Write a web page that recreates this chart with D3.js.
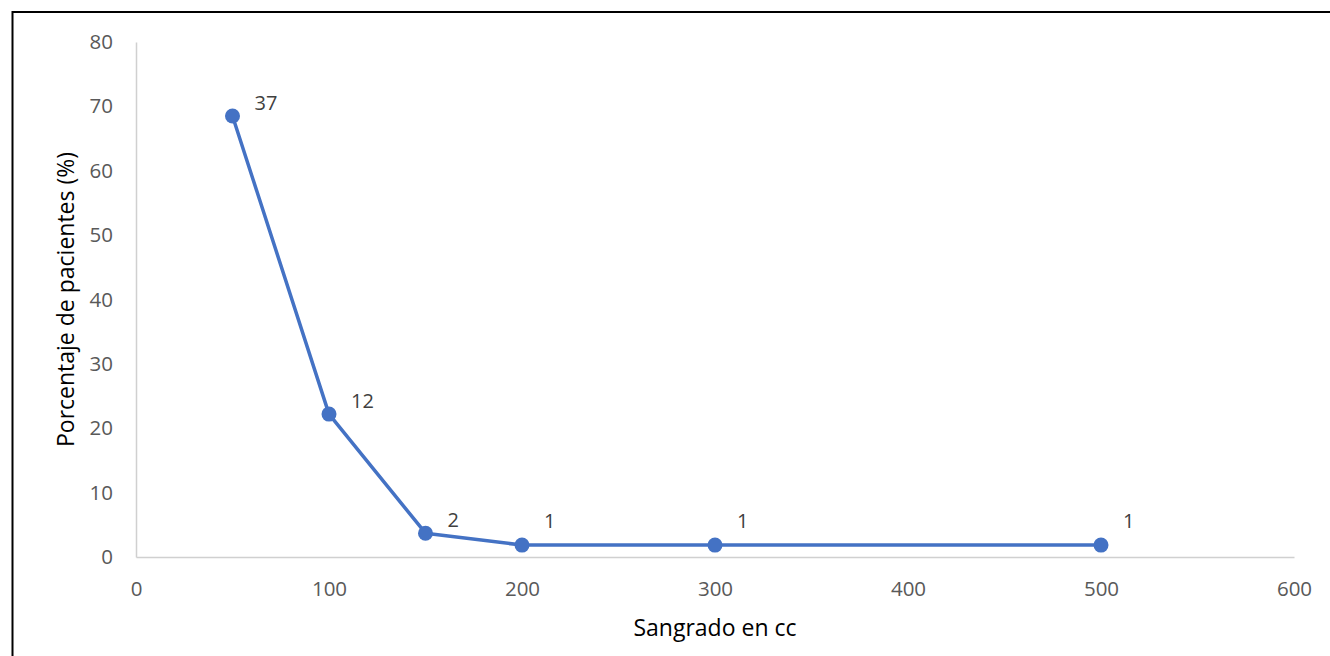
<!DOCTYPE html>
<html>
<head>
<meta charset="utf-8">
<script src="https://cdn.jsdelivr.net/npm/d3@7"></script>
<style>
  body {margin:0; background:#fff;}
  svg text {font-family:"Open Sans", "Noto Sans", sans-serif;}
</style>
</head>
<body>
<svg width="1330" height="656"></svg>
<script>
// sangrado (cc) y porcentaje de pacientes, n = 54
var sangrado = [50, 100, 150, 200, 300, 500];
var porcentaje = [68.5, 22.2, 3.7, 1.85, 1.85, 1.85];
var pacientes = [37, 12, 2, 1, 1, 1];
var xTicks = [0, 100, 200, 300, 400, 500, 600];
var yTicks = [0, 10, 20, 30, 40, 50, 60, 70, 80];

var svg = d3.select("svg"),
    plotLeft = 136, plotRight = 1294, plotTop = 42, plotBottom = 557;

var x = d3.scaleLinear().domain([0, 600]).range([plotLeft, plotRight]);
var y = d3.scaleLinear().domain([0, 80]).range([plotBottom, plotTop]);

// frame (runs off the right and bottom edge)
svg.append("rect")
    .attr("x", 12.5).attr("y", 12)
    .attr("width", 1400).attr("height", 800)
    .attr("fill", "none")
    .attr("stroke", "#000")
    .attr("stroke-width", 2);

var xAxis = svg.append("g")
    .attr("transform", "translate(0," + plotBottom + ")")
    .call(d3.axisBottom(x).tickValues(xTicks).tickSize(0).tickPadding(24));
var yAxis = svg.append("g")
    .attr("transform", "translate(" + plotLeft + ",0)")
    .call(d3.axisLeft(y).tickValues(yTicks).tickSize(0).tickPadding(23));

[xAxis, yAxis].forEach(function(a) {
  a.select(".domain").attr("stroke", "#D0D0D0").attr("stroke-width", 1.5);
  a.selectAll("text")
      .attr("fill", "#595959")
      .style("font-size", "20.5px")
      .style("font-family", "'Open Sans', sans-serif");
});
xAxis.selectAll("text").attr("dy", "0.71em");

svg.append("text")
    .attr("x", (plotLeft + plotRight) / 2)
    .attr("y", 636)
    .attr("text-anchor", "middle")
    .attr("fill", "#000")
    .style("font-size", "23px")
    .text("Sangrado en cc");

svg.append("text")
    .attr("transform", "translate(74," + ((plotTop + plotBottom) / 2) + ") rotate(-90)")
    .attr("text-anchor", "middle")
    .attr("fill", "#000")
    .style("font-size", "23px")
    .text("Porcentaje de pacientes (%)");

var data = sangrado.map(function(s, i) {
  return {x: s, y: porcentaje[i], n: pacientes[i]};
});

svg.append("path")
    .datum(data)
    .attr("fill", "none")
    .attr("stroke", "#4472C4")
    .attr("stroke-width", 3.5)
    .attr("stroke-linejoin", "round")
    .attr("d", d3.line().x(function(d) { return x(d.x); }).y(function(d) { return y(d.y); }));

svg.selectAll("circle")
    .data(data)
    .enter().append("circle")
    .attr("cx", function(d) { return x(d.x); })
    .attr("cy", function(d) { return y(d.y); })
    .attr("r", 7.5)
    .attr("fill", "#4472C4");

svg.selectAll("text.lbl")
    .data(data)
    .enter().append("text")
    .attr("class", "lbl")
    .attr("x", function(d) { return x(d.x) + 22; })
    .attr("y", function(d) { return y(d.y) - (d.n > 1 ? 6 : 17); })
    .attr("fill", "#404040")
    .style("font-size", "20px")
    .text(function(d) { return d.n; });
</script>
</body>
</html>
